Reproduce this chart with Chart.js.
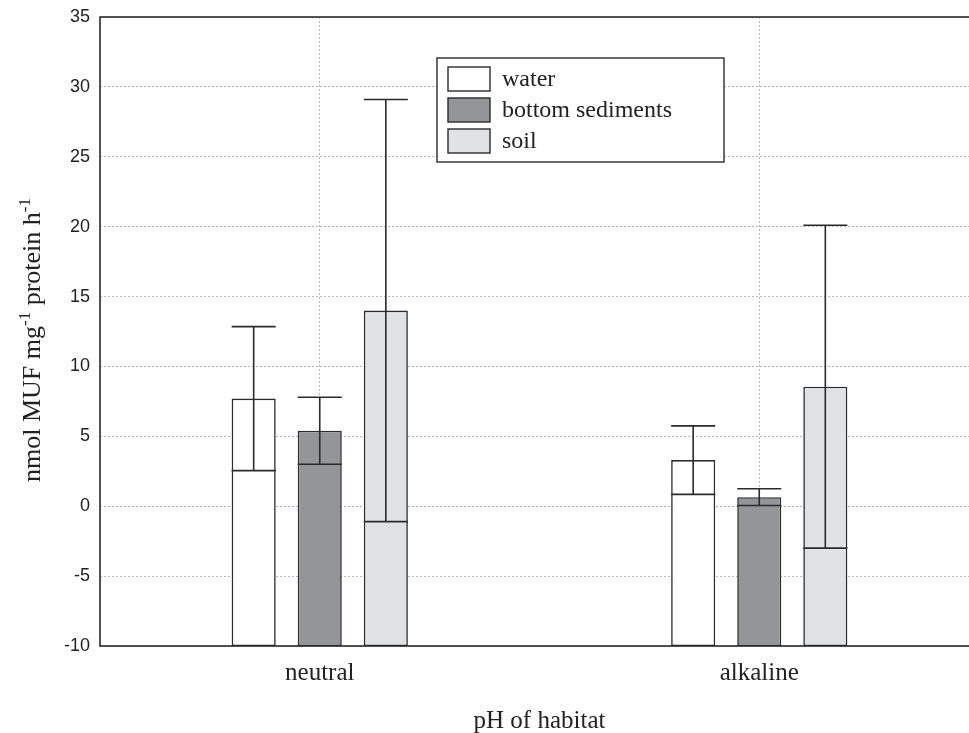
<!DOCTYPE html>
<html>
<head>
<meta charset="utf-8">
<script src="https://cdn.jsdelivr.net/npm/chart.js@4.4.0/dist/chart.umd.min.js"></script>
<style>
  html, body { margin: 0; padding: 0; background: #fff; overflow: hidden; }
  #wrap { width: 969px; height: 733px; overflow: hidden; }
  #wrap div { width: 990px; height: 733px; }
</style>
</head>
<body>
<div id="wrap"><div><canvas id="bar-chart" width="990" height="733"></canvas></div></div>
<script>
// pH groups
var categories = ['neutral', 'alkaline'];
var seriesNames = ['water', 'bottom sediments', 'soil'];
var seriesColors = ['#ffffff', '#939598', '#e1e2e4'];

// mean values (bar tops)
var waterMean = [7.7, 3.3];
var sedimentMean = [5.4, 0.65];
var soilMean = [14.0, 8.55];

// error (+/-) around mean
var waterErr = [5.15, 2.45];
var sedimentErr = [2.4, 0.6];
var soilErr = [15.1, 11.55];

var yTicks = [-10, -5, 0, 5, 10, 15, 20, 25, 30, 35];
var yMin = -10, yMax = 35;

var means = [waterMean, sedimentMean, soilMean];
var errs = [waterErr, sedimentErr, soilErr];
var ink = '#2b2b2b';
var serif = '"Liberation Serif", "Times New Roman", serif';

var errorBars = {
  id: 'errorBars',
  afterDatasetsDraw: function(chart) {
    var ctx = chart.ctx;
    var y = chart.scales.y;
    ctx.save();
    ctx.strokeStyle = ink;
    ctx.lineWidth = 1.6;
    means.forEach(function(m, i) {
      var meta = chart.getDatasetMeta(i);
      meta.data.forEach(function(bar, j) {
        var hi = y.getPixelForValue(m[j] + errs[i][j]);
        var lo = y.getPixelForValue(m[j] - errs[i][j]);
        var hw = bar.width / 2;
        ctx.beginPath();
        ctx.moveTo(bar.x, lo); ctx.lineTo(bar.x, hi);
        ctx.moveTo(bar.x - hw, hi); ctx.lineTo(bar.x + hw, hi);
        ctx.moveTo(bar.x - hw, lo); ctx.lineTo(bar.x + hw, lo);
        ctx.stroke();
      });
    });
    ctx.restore();
  },
  afterDraw: function(chart) {
    var ctx = chart.ctx;
    var a = chart.chartArea;
    ctx.save();
    // frame
    ctx.strokeStyle = ink;
    ctx.lineWidth = 1.6;
    ctx.strokeRect(a.left, a.top, a.right - a.left, a.bottom - a.top);

    // legend box
    var lx = 437, ly = 58, lw = 287, lh = 104;
    ctx.fillStyle = '#fff';
    ctx.fillRect(lx, ly, lw, lh);
    ctx.lineWidth = 1.4;
    ctx.strokeRect(lx, ly, lw, lh);
    ctx.font = '24px ' + serif;
    ctx.textBaseline = 'middle';
    seriesNames.forEach(function(name, i) {
      var sy = 67 + i * 31;
      ctx.fillStyle = seriesColors[i];
      ctx.fillRect(448, sy, 42, 24);
      ctx.strokeRect(448, sy, 42, 24);
      ctx.fillStyle = '#222';
      ctx.fillText(name, 502, sy + 13);
    });

    // y axis title with superscripts
    ctx.translate(40, 340);
    ctx.rotate(-Math.PI / 2);
    var parts = [['nmol MUF mg', 0], ['-1', 1], [' protein h', 0], ['-1', 1]];
    var big = '26px ' + serif, small = '17px ' + serif;
    var total = 0;
    parts.forEach(function(p) { ctx.font = p[1] ? small : big; total += ctx.measureText(p[0]).width; });
    var x = -total / 2;
    ctx.fillStyle = '#222';
    ctx.textBaseline = 'alphabetic';
    parts.forEach(function(p) {
      ctx.font = p[1] ? small : big;
      ctx.fillText(p[0], x, p[1] ? -10 : 0);
      x += ctx.measureText(p[0]).width;
    });
    ctx.restore();
  }
};

var datasets = seriesNames.map(function(name, i) {
  return {
    label: name,
    data: means[i].map(function(v) { return [yMin, v]; }),
    backgroundColor: seriesColors[i],
    borderColor: ink,
    borderWidth: 1.6,
    borderSkipped: false,
    barPercentage: 0.667,
    categoryPercentage: 0.451
  };
});

new Chart(document.getElementById('bar-chart'), {
  type: 'bar',
  data: { labels: categories, datasets: datasets },
  plugins: [errorBars],
  options: {
    responsive: false,
    animation: false,
    layout: { padding: { top: 17, right: 11, left: 0, bottom: 0 } },
    plugins: { legend: { display: false }, tooltip: { enabled: false } },
    scales: {
      x: {
        grid: { offset: false, color: '#b8b8b8', drawTicks: false },
        border: { display: false, dash: [2, 2] },
        ticks: { color: '#222', font: { family: serif, size: 25 }, padding: 12 },
        title: { display: true, text: 'pH of habitat', color: '#222', font: { family: serif, size: 25 }, padding: { top: 0, bottom: -3 } },
        afterFit: function(s) { s.height = 87; s.paddingLeft = 0; s.paddingRight = 0; }
      },
      y: {
        min: yMin, max: yMax,
        afterBuildTicks: function(s) { s.ticks = yTicks.map(function(v) { return { value: v }; }); },
        grid: { color: '#b8b8b8', drawTicks: false },
        border: { display: false, dash: [2, 2] },
        ticks: { color: '#222', font: { family: '"Liberation Sans", Arial, sans-serif', size: 18 }, padding: 10 },
        afterFit: function(s) { s.width = 100; s.paddingTop = 0; s.paddingBottom = 0; }
      }
    }
  }
});
</script>
</body>
</html>
